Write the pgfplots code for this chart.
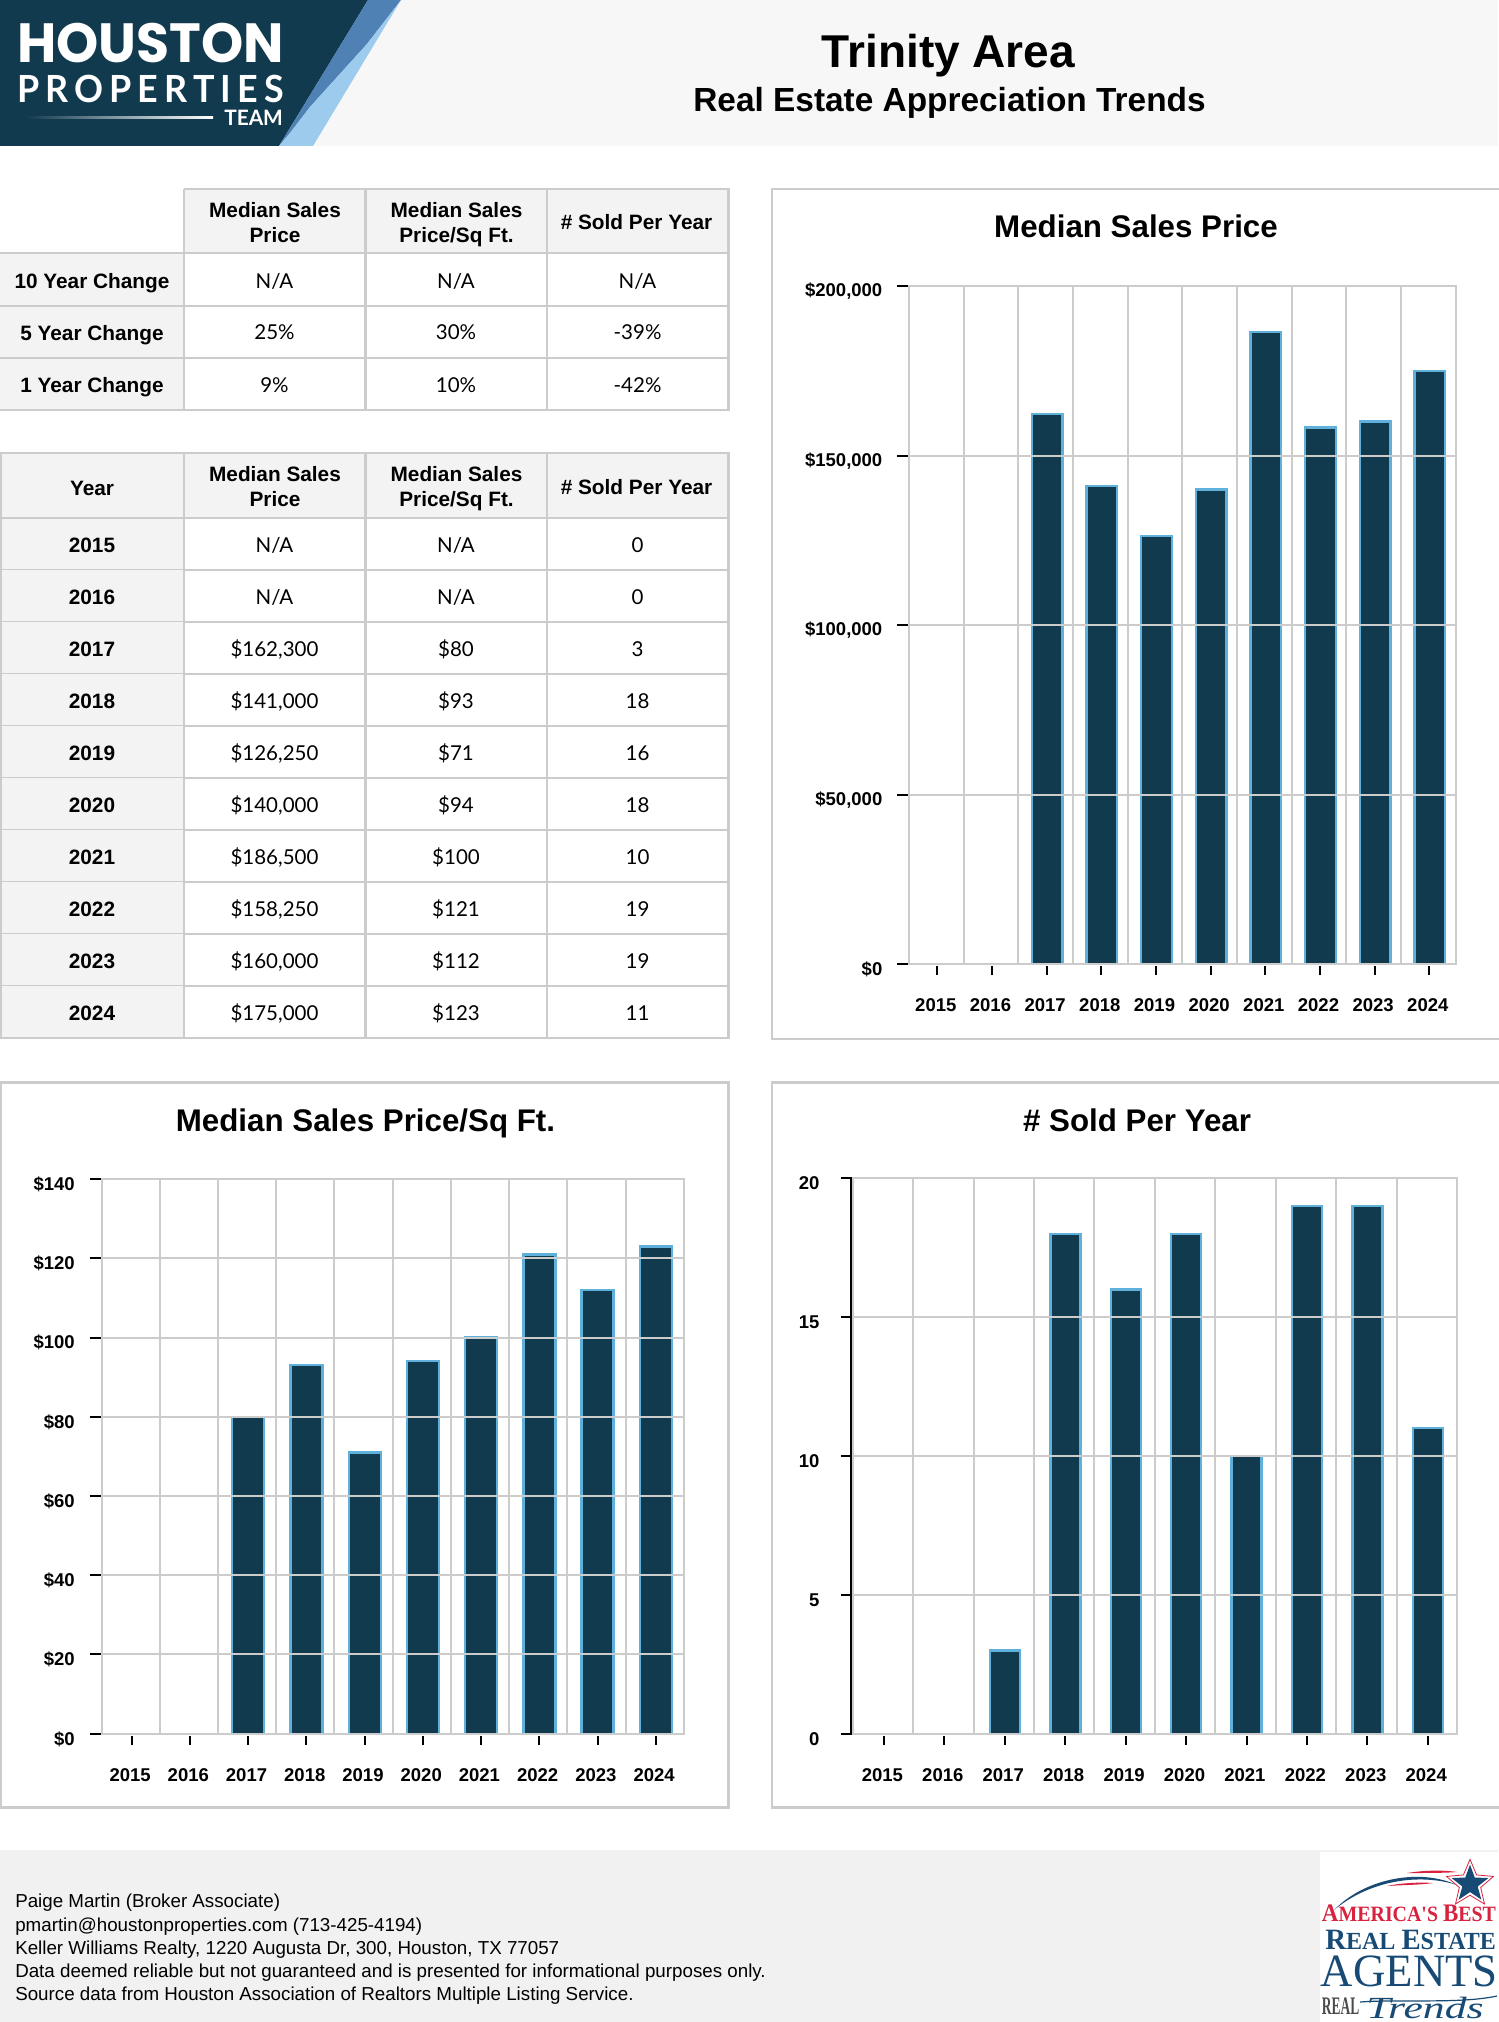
\documentclass[border=0pt]{standalone}
\usepackage{fontspec}
\usepackage{pgfplots}
\usepackage{pgfplotstable}
\pgfplotsset{compat=1.18}
\usetikzlibrary{shapes.geometric}
\setmainfont{Liberation Sans}
\newfontfamily\lato{Lato}
\newfontfamily\pop{Poppins}
\newfontfamily\lserif{Liberation Serif}
\newcommand\fs[1]{\fontsize{\the\dimexpr#1pt*3/4\relax}{\the\dimexpr#1pt*9/10\relax}\selectfont}
\definecolor{gg}{HTML}{CCCCCC}
\definecolor{hd}{HTML}{F3F3F3}
\definecolor{topband}{HTML}{F7F7F7}
\definecolor{foot}{HTML}{F1F1F1}
\definecolor{navy}{HTML}{113A4F}
\definecolor{barline}{HTML}{5FB0DA}
\definecolor{midblue}{HTML}{4F81B5}
\definecolor{ltblue}{HTML}{9CCBEE}
\definecolor{logored}{HTML}{D8223F}
\definecolor{logonavy}{HTML}{174A75}
\pgfplotstableread{
i year price ppsf sold
0 2015 nan nan 0
1 2016 nan nan 0
2 2017 162300 80 3
3 2018 141000 93 18
4 2019 126250 71 16
5 2020 140000 94 18
6 2021 186500 100 10
7 2022 158250 121 19
8 2023 160000 112 19
9 2024 175000 123 11
}\trinitydata
\pgfplotsset{
  panel/.style={
    scale only axis, anchor=south west, axis on top,
    scaled y ticks=false,
    xmin=-0.5, xmax=9.5, ymin=0,
    xtick={0,1,2,3,4,5,6,7,8,9},
    xticklabels={2015,2016,2017,2018,2019,2020,2021,2022,2023,2024},
    minor xtick={-0.5,0.5,1.5,2.5,3.5,4.5,5.5,6.5,7.5,8.5,9.5},
    xminorgrids, ymajorgrids,
    grid style={gg, line width=1.5pt},
    minor grid style={gg, line width=1.5pt},
    axis line style={gg, line width=1.5pt},
    tick align=outside, tick pos=left,
    minor tick length=0pt,
    major tick length=9pt,
    y tick style={black, line width=1.5pt},
    x tick style={black, line width=1.5pt, yshift=-1.6pt, xshift=0.8pt, /pgfplots/major tick length=6.5pt},
    ticklabel style={font=\fs{18.5}\bfseries, text=black},
    yticklabel style={yshift=-3.9pt, xshift=-7.5pt},
    xticklabel style={yshift=-13.5pt, xshift=-0.4pt},
    ylabel=, xlabel=,
  },
  bars/.style={ybar, fill=navy, draw=barline, line width=1.8pt},
}
\newcommand\trow[5]{%
  \fill[hd] (0,#1) rectangle (184,#1+52);
  \node[font=\fs{20.8}\bfseries] at (92,#1+28) {#2};
  \node[font=\fs{20.5}\lato] at (274.5,#1+28) {#3};
  \node[font=\fs{20.5}\lato] at (456,#1+28) {#4};
  \node[font=\fs{20.5}\lato] at (637.5,#1+27.5) {#5};
  \draw[gg,line width=1.6pt] (0,#1+52) -- (728.5,#1+52);
}
\begin{document}
\begin{tikzpicture}[x=0.75pt,y=-0.75pt]
\useasboundingbox (0,0) rectangle (1498,2022);
\fill[white] (0,0) rectangle (1498,2022);
% header band
\fill[topband] (0,0) rectangle (1498,146);
\fill[navy] (0,0) -- (368,0) -- (279,146) -- (0,146) -- cycle;
\fill[midblue] (368,0) -- (401,0) -- (367,44) -- (310,107) -- (290,133) -- (279,146) -- cycle;
\fill[ltblue] (401,0) -- (313,146) -- (279,146) -- (290,133) -- (310,107) -- (367,44) -- cycle;
\node[anchor=north west,inner sep=0pt,text=white] at (17,23) {\resizebox{200pt}{29.5pt}{\pop\bfseries HOUSTON}};
\node[anchor=north west,inner sep=0pt,text=white] at (17,75) {\resizebox{200pt}{20.5pt}{\lato\bfseries P\,R\,O\,P\,E\,R\,T\,I\,E\,S}};
\node[anchor=north west,inner sep=0pt,text=white] at (224,110) {\resizebox{44pt}{11.5pt}{\lato\bfseries TEAM}};
\shade[left color=navy,right color=white] (25,117) rectangle (213,119);
\node[font=\fs{46}\bfseries] at (948.5,55.5) {Trinity Area};
\node[font=\fs{33.4}\bfseries] at (949.5,102.5) {Real Estate Appreciation Trends};
% change table
\fill[hd] (184,189) rectangle (728.5,253);
\fill[hd] (0,253) rectangle (184,409.7);
\node[font=\fs{20.8}\bfseries,align=center] at (275,222.5) {Median Sales\\Price};
\node[font=\fs{20.8}\bfseries,align=center] at (456.5,225) {Median Sales\\Price/Sq Ft.};
\node[font=\fs{20.8}\bfseries] at (636.5,222.5) {\# Sold Per Year};
\node[font=\fs{20.8}\bfseries] at (92,283) {10 Year Change};
\node[font=\fs{20.8}\bfseries] at (92,335.5) {5 Year Change};
\node[font=\fs{20.8}\bfseries] at (92,387.5) {1 Year Change};
\node[font=\fs{20.5}\lato] at (274.5,281) {N/A};
\node[font=\fs{20.5}\lato] at (456,281) {N/A};
\node[font=\fs{20.5}\lato] at (637.5,281) {N/A};
\node[font=\fs{20.5}\lato] at (274.5,332) {25\%};
\node[font=\fs{20.5}\lato] at (456,332) {30\%};
\node[font=\fs{20.5}\lato] at (637.5,332) {-39\%};
\node[font=\fs{20.5}\lato] at (274.5,385) {9\%};
\node[font=\fs{20.5}\lato] at (456,385) {10\%};
\node[font=\fs{20.5}\lato] at (637.5,385) {-42\%};
\draw[gg,line width=1.6pt] (184,189) -- (728.5,189) -- (728.5,409.7) -- (0,409.7);
\draw[gg,line width=1.6pt] (0,253.3) -- (728.5,253.3);
\draw[gg,line width=1.6pt] (0,305.7) -- (728.5,305.7);
\draw[gg,line width=1.6pt] (0,357.7) -- (728.5,357.7);
\draw[gg,line width=1.6pt] (184,189) -- (184,409.7);
\draw[gg,line width=1.6pt] (365.5,189) -- (365.5,409.7);
\draw[gg,line width=1.6pt] (547,189) -- (547,409.7);
% yearly table
\fill[hd] (0,453.3) rectangle (728.5,517.7);
\node[font=\fs{20.8}\bfseries] at (92,488) {Year};
\node[font=\fs{20.8}\bfseries,align=center] at (275,487) {Median Sales\\Price};
\node[font=\fs{20.8}\bfseries,align=center] at (456.5,489) {Median Sales\\Price/Sq Ft.};
\node[font=\fs{20.8}\bfseries] at (636.5,487.5) {\# Sold Per Year};
\trow{517.7}{2015}{N/A}{N/A}{0}
\trow{569.7}{2016}{N/A}{N/A}{0}
\trow{621.7}{2017}{\$162,300}{\$80}{3}
\trow{673.7}{2018}{\$141,000}{\$93}{18}
\trow{725.7}{2019}{\$126,250}{\$71}{16}
\trow{777.7}{2020}{\$140,000}{\$94}{18}
\trow{829.7}{2021}{\$186,500}{\$100}{10}
\trow{881.7}{2022}{\$158,250}{\$121}{19}
\trow{933.7}{2023}{\$160,000}{\$112}{19}
\trow{985.7}{2024}{\$175,000}{\$123}{11}
\draw[gg,line width=1.6pt] (1,453.3) rectangle (728.5,1037.7);
\draw[gg,line width=1.6pt] (0,517.7) -- (728.5,517.7);
\draw[gg,line width=1.6pt] (184,453.3) -- (184,1037.7);
\draw[gg,line width=1.6pt] (365.5,453.3) -- (365.5,1037.7);
\draw[gg,line width=1.6pt] (547,453.3) -- (547,1037.7);
% panels
\draw[gg,line width=1.8pt] (1500,189) -- (772,189) -- (772,1039) -- (1500,1039);
\draw[gg,line width=1.8pt] (1,1082.5) rectangle (728.5,1807.5);
\draw[gg,line width=1.8pt] (1500,1082.5) -- (772,1082.5) -- (772,1807.5) -- (1500,1807.5);
\node[font=\fs{31.3}\bfseries] at (1136,226) {Median Sales Price};
\node[font=\fs{31.3}\bfseries] at (365.5,1123.5) {Median Sales Price/Sq Ft.};
\node[font=\fs{31.3}\bfseries] at (1137,1120) {\# Sold Per Year};
% charts
\begin{axis}[panel, at={({909*0.75pt},{-964.3*0.75pt})}, width=410pt, height=508.7pt,
  ymax=200000, ytick={0,50000,100000,150000,200000},
  yticklabels={\$0,{\$50,000},{\$100,000},{\$150,000},{\$200,000}}]
\addplot[bars, bar width=23pt, bar shift=1.2pt] table[x=i,y=price]{\trinitydata};
\end{axis}
\begin{axis}[panel, at={({101.5*0.75pt},{-1733.7*0.75pt})}, width=436.7pt, height=416pt,
  ymax=140, ytick={0,20,40,60,80,100,120,140},
  yticklabels={\$0,\$20,\$40,\$60,\$80,\$100,\$120,\$140}]
\addplot[bars, bar width=24pt, bar shift=0.9pt] table[x=i,y=ppsf]{\trinitydata};
\end{axis}
\begin{axis}[panel, at={({852.7*0.75pt},{-1733.7*0.75pt})}, width=453.2pt, height=416.6pt,
  ymax=20, ytick={0,5,10,15,20}, yticklabels={0,5,10,15,20},
  yticklabel style={xshift=-5pt}]
\addplot[bars, bar width=22.5pt, bar shift=0.9pt] table[x=i,y=sold]{\trinitydata};
\end{axis}
\draw[black,line width=1.3pt] (851,1178) -- (851,1733);
% footer
\fill[foot] (0,1850) rectangle (1498,2022);
\node[anchor=west,inner sep=0pt,font=\fs{18.76}] at (15,1903) {Paige Martin (Broker Associate)};
\node[anchor=west,inner sep=0pt,font=\fs{18.76}] at (15,1926.2) {pmartin@houstonproperties.com (713-425-4194)};
\node[anchor=west,inner sep=0pt,font=\fs{18.76}] at (15,1949.4) {Keller Williams Realty, 1220 Augusta Dr, 300, Houston, TX 77057};
\node[anchor=west,inner sep=0pt,font=\fs{18.76}] at (15,1972.6) {Data deemed reliable but not guaranteed and is presented for informational purposes only.};
\node[anchor=west,inner sep=0pt,font=\fs{18.76}] at (15,1995.8) {Source data from Houston Association of Realtors Multiple Listing Service.};
% award logo
\fill[white] (1320,1852) rectangle (1498,2022);
\fill[logored] (1407,1873) .. controls (1425,1870) and (1445,1870) .. (1457,1872) .. controls (1445,1873) and (1425,1873) .. (1407,1873) -- cycle;
\fill[logored] (1387,1886) .. controls (1400,1883) and (1420,1882) .. (1433,1883) .. controls (1420,1885) and (1400,1885) .. (1387,1886) -- cycle;
\fill[logonavy] (1334,1910) .. controls (1365,1878) and (1420,1868) .. (1457,1885) .. controls (1420,1873) and (1370,1880) .. (1334,1910) -- cycle;
\node[star,star points=5,star point ratio=2.2,fill=white,draw=logored,line width=0.6pt,minimum size=37pt,inner sep=0pt] at (1470,1884) {};
\node[star,star points=5,star point ratio=2.4,fill=logonavy,minimum size=29pt,inner sep=0pt] at (1470,1884) {};
\node[anchor=north west,inner sep=0pt,text=logored] at (1321.7,1905) {\resizebox{130.5pt}{12.5pt}{\lserif\bfseries\fs{30}A\fs{26}MERICA'S \fs{30}B\fs{26}EST}};
\node[anchor=north west,inner sep=0pt,text=logonavy] at (1325,1930) {\resizebox{128pt}{14.5pt}{\lserif\bfseries\fs{30}R\fs{25}EAL \fs{30}E\fs{25}STATE}};
\node[anchor=north west,inner sep=0pt,text=logonavy] at (1320.7,1956) {\resizebox{132.5pt}{23pt}{\lserif AGENTS}};
\node[anchor=north west,inner sep=0pt,text=black!70] at (1321.7,1998) {\resizebox{28pt}{12.5pt}{\lserif\bfseries REAL}};
\draw[logonavy,line width=0.9pt] (1360,2002) .. controls (1400,1999) and (1460,2004) .. (1497,1996);
\node[anchor=north west,inner sep=0pt,text=logonavy] at (1366,1997) {\resizebox{88pt}{16pt}{\lserif\itshape Trends}};
\end{tikzpicture}
\end{document}
